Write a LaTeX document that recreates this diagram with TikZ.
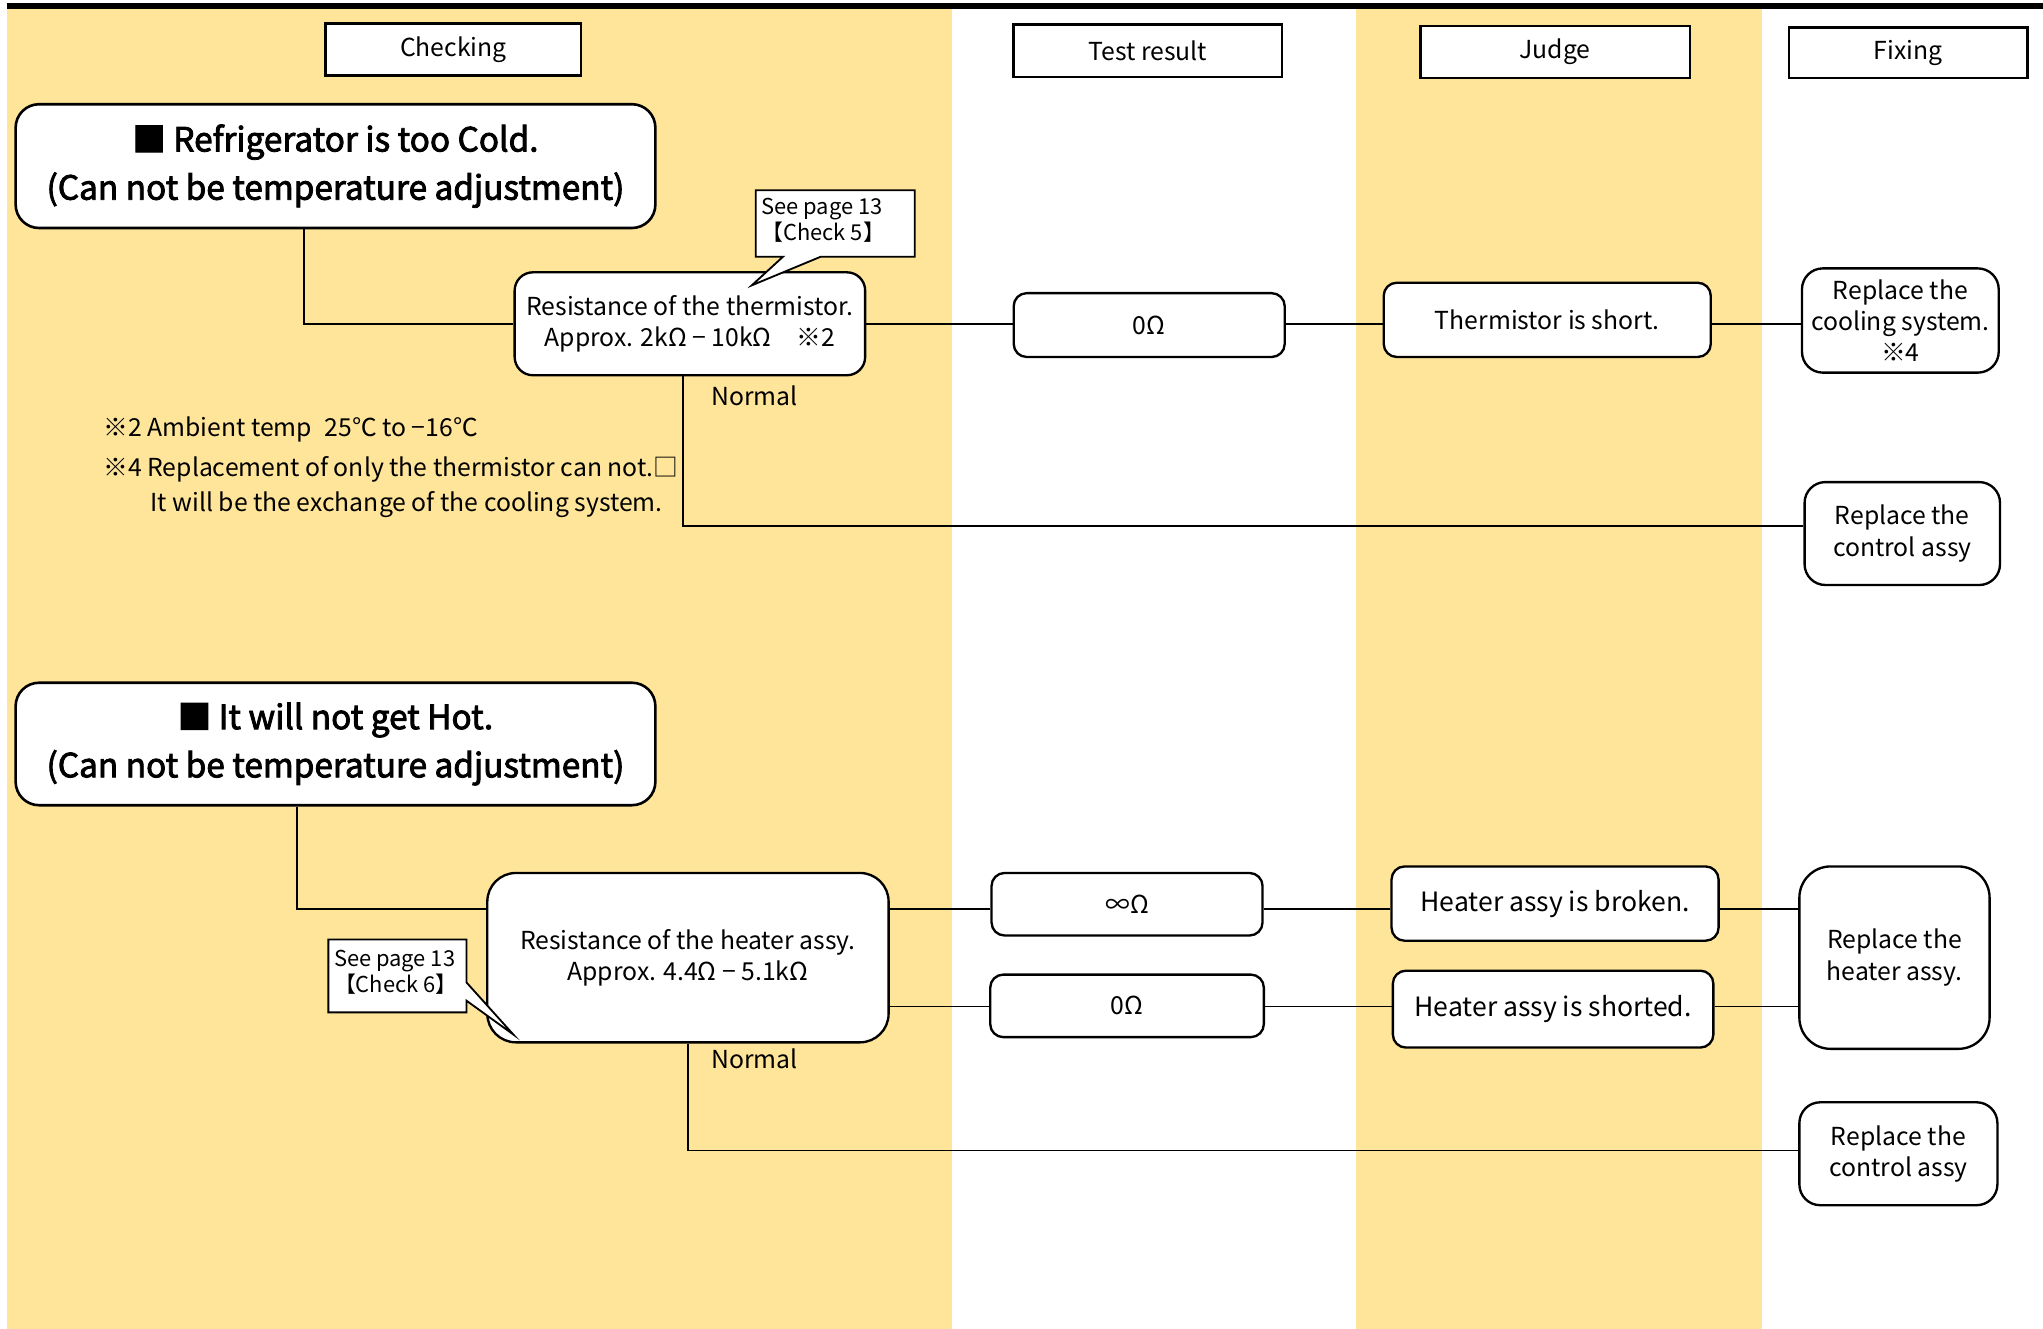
\documentclass[tikz,border=0pt]{standalone}
\usepackage{fontspec}
\setmainfont{Noto Sans CJK JP}
\newfontfamily\ttlfont{Noto Sans CJK JP}[FakeBold=2.5]
\usetikzlibrary{calc}
\definecolor{lane}{RGB}{255,229,153}
\begin{document}
\begin{tikzpicture}[x=0.5pt,y=-0.5pt,
  hdr/.style={draw, line width=1pt, fill=white, inner sep=0pt, font=\fontsize{9.5}{12}\selectfont},
  rbox/.style={draw, line width=0.9pt, fill=white, rounded corners=5pt, inner sep=0pt, align=center, font=\fontsize{9.5}{12}\selectfont},
  ttl/.style={draw, line width=1pt, fill=white, rounded corners=9pt, inner sep=0pt, align=center, font=\ttlfont\fontsize{12.8}{18.5}\selectfont},
  conn/.style={line width=0.75pt},
  note/.style={anchor=west, inner sep=0pt, font=\fontsize{9.5}{12}\selectfont},
  callout/.style={draw, line width=0.7pt, fill=white},
  ctext/.style={anchor=west, inner sep=0pt, align=left, font=\fontsize{8.4}{10}\selectfont}
]
\useasboundingbox (0,0) rectangle (1568,1020);
% lanes
\fill[lane] (5,7) rectangle (731,1020);
\fill[lane] (1041,7) rectangle (1352,1020);
\draw[line width=2.5pt] (5,4.5) -- (1568,4.5);

% headers
\node[hdr, minimum width=98pt, minimum height=20pt] (hChk) at (348,38) {Checking};
\node[hdr, minimum width=103pt, minimum height=20pt] (hTest) at (881,39) {Test result};
\node[hdr, minimum width=103.5pt, minimum height=20pt] (hJudge) at (1193.5,40) {Judge};
\node[hdr, minimum width=91.5pt, minimum height=19.5pt] (hFix) at (1464.5,40.5) {Fixing};

% titles
\node[ttl, minimum width=245.5pt, minimum height=47.5pt] (title1) at (257.5,127.5) {■ Refrigerator is too Cold.\\(Can not be temperature adjustment)};
\node[ttl, minimum width=245.5pt, minimum height=47pt] (title2) at (257.5,571) {■ It will not get Hot.\\(Can not be temperature adjustment)};

% upper flow
\node[rbox, rounded corners=7pt, minimum width=134.5pt, minimum height=39.5pt] (therm) at (529.5,248.5) {Resistance of the thermistor.\\Approx. 2kΩ − 10kΩ　※2};
\node[rbox, minimum width=104pt, minimum height=24.5pt] (r0a) at (882,249.5) {0Ω};
\node[rbox, minimum width=125.5pt, minimum height=28.5pt] (jShort) at (1187.5,245.5) {Thermistor is short.};
\node[rbox, rounded corners=8pt, minimum width=75.5pt, minimum height=40pt] (fCool) at (1458.5,246) {Replace the\\cooling system.\\※4};
\node[rbox, rounded corners=8pt, minimum width=75pt, minimum height=39.5pt] (fCtl1) at (1460,409.5) {Replace the\\control assy};

\coordinate (row1) at (0,248.5);
\coordinate (row1n) at (0,404);
\draw[conn] ([xshift=-12.25pt]title1.south) |- (therm.west);
\draw[conn] (therm.east |- row1) -- (r0a.west |- row1);
\draw[conn] (r0a.east |- row1) -- (jShort.west |- row1);
\draw[conn] (jShort.east |- row1) -- (fCool.west |- row1);
\draw[conn] ([xshift=-2.75pt]therm.south) |- (fCtl1.west |- row1n);
\node[note, anchor=center] (norm1) at (579,304) {Normal};

% callout 1
\draw[callout] (580,146) -- (702,146) -- (702,197) -- (630,197) -- (577,219) -- (601,197) -- (580,197) -- cycle;
\node[ctext] (c1) at (584,169) {See page 13\\【Check 5】};

% notes
\node[note] (n2) at (79,330) {※2 Ambient temp\enspace 25℃ to −16℃};
\node[note] (n4) at (79,360) {※4 Replacement of only the thermistor can not.□};
\node[note] (n4b) at (115,387) {It will be the exchange of the cooling system.};

% lower flow
\node[rbox, rounded corners=11pt, minimum width=154pt, minimum height=65pt] (heater) at (528,735) {Resistance of the heater assy.\\Approx. 4.4Ω − 5.1kΩ};
\node[rbox, minimum width=104pt, minimum height=24pt] (rInf) at (865,694) {∞Ω};
\node[rbox, minimum width=105pt, minimum height=24pt] (r0b) at (865,772) {0Ω};
\node[rbox, minimum width=125.5pt, minimum height=28.5pt, font=\fontsize{10.2}{12}\selectfont] (jBroken) at (1193.5,693.5) {Heater assy is broken.};
\node[rbox, minimum width=123pt, minimum height=29.5pt, font=\fontsize{10.2}{12}\selectfont] (jShorted) at (1192,774.5) {Heater assy is shorted.};
\node[rbox, rounded corners=12pt, minimum width=73pt, minimum height=70pt] (fHeater) at (1454,735) {Replace the\\heater assy.};
\node[rbox, rounded corners=8pt, minimum width=76pt, minimum height=39.5pt] (fCtl2) at (1457,885.5) {Replace the\\control assy};

\coordinate (row2) at (0,698);
\coordinate (row3) at (0,772.5);
\coordinate (row4) at (0,883);
\draw[conn] ([xshift=-14.75pt]title2.south) |- (heater.west |- row2);
\draw[conn] (heater.east |- row2) -- (rInf.west |- row2);
\draw[conn] (rInf.east |- row2) -- (jBroken.west |- row2);
\draw[conn] (jBroken.east |- row2) -- (fHeater.west |- row2);
\draw[conn] (heater.east |- row3) -- (r0b.west |- row3);
\draw[conn] (r0b.east |- row3) -- (jShorted.west |- row3);
\draw[conn] (jShorted.east |- row3) -- (fHeater.west |- row3);
\draw[conn] (heater.south) |- (fCtl2.west |- row4);
\node[note, anchor=center] (norm2) at (579,813) {Normal};

% callout 2
\draw[callout] (252,721) -- (358,721) -- (358,754) -- (394,794) -- (358,768) -- (358,777) -- (252,777) -- cycle;
\node[ctext] (c2) at (256,746) {See page 13\\【Check 6】};
\end{tikzpicture}
\end{document}
